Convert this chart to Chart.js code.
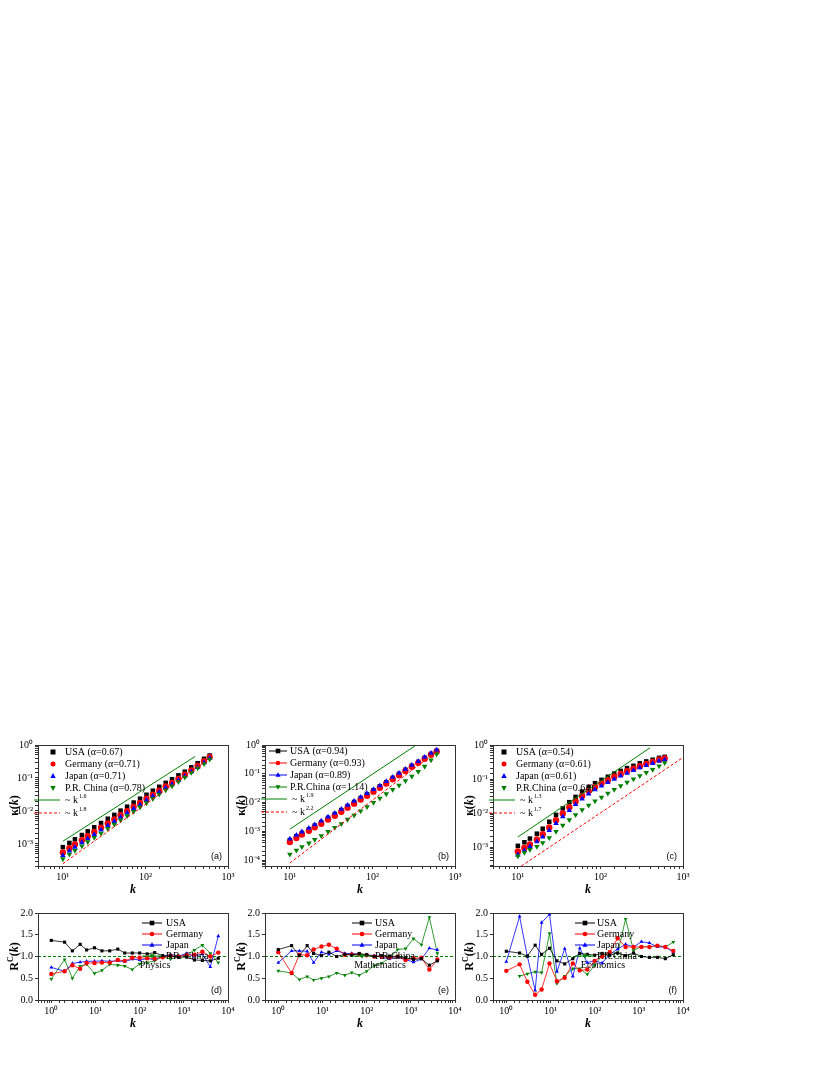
<!DOCTYPE html>
<html>
<head>
<meta charset="utf-8">
<script src="https://cdn.jsdelivr.net/npm/chart.js@4/dist/chart.umd.min.js"></script>
<style>
body{margin:0;background:#fff;}
#wrap{position:relative;width:830px;height:1075px;}
canvas{position:absolute;}
</style>
</head>
<body>
<div id="wrap">
<canvas id="ca" width="248" height="169" style="left:0px;top:733px"></canvas>
<canvas id="cb" width="248" height="169" style="left:227px;top:733px"></canvas>
<canvas id="cc" width="248" height="169" style="left:455px;top:733px"></canvas>
<canvas id="cd" width="248" height="135" style="left:0px;top:901px"></canvas>
<canvas id="ce" width="248" height="135" style="left:227px;top:901px"></canvas>
<canvas id="cf" width="248" height="135" style="left:455px;top:901px"></canvas>
</div>
<script>
// top row: kappa(k) vs k
const kTop = [10,12,14,17,20,24,29,35,42,50,60,72,86,103,123,147,176,210,251,300,359,429,513,600];
const usaA = [8e-4,1.07e-3,1.38e-3,1.86e-3,2.4e-3,3.2e-3,4.3e-3,5.8e-3,7.6e-3,1.02e-2,1.35e-2,1.8e-2,2.35e-2,3.1e-2,4.1e-2,5.4e-2,7.1e-2,9.1e-2,0.12,0.155,0.21,0.28,0.38,0.48];
const gerA = [5.5e-4,7.4e-4,9.6e-4,1.3e-3,1.7e-3,2.3e-3,3.1e-3,4.2e-3,5.5e-3,7.4e-3,9.9e-3,1.33e-2,1.75e-2,2.35e-2,3.1e-2,4.1e-2,5.5e-2,7.1e-2,9.4e-2,0.125,0.17,0.23,0.32,0.43];
const jpnA = [4.5e-4,6.1e-4,8e-4,1.1e-3,1.45e-3,1.95e-3,2.65e-3,3.6e-3,4.8e-3,6.5e-3,8.7e-3,1.17e-2,1.55e-2,2.1e-2,2.8e-2,3.7e-2,5e-2,6.5e-2,8.6e-2,0.115,0.155,0.21,0.29,0.40];
const chnA = [3.5e-4,4.8e-4,6.3e-4,8.6e-4,1.15e-3,1.55e-3,2.1e-3,2.9e-3,3.9e-3,5.3e-3,7.1e-3,9.6e-3,1.3e-2,1.75e-2,2.35e-2,3.2e-2,4.3e-2,5.7e-2,7.7e-2,0.105,0.145,0.2,0.27,0.37];
const fitGreenA = [[10,1.2e-3],[400,0.45]];
const fitRedA = [[10,2.5e-4],[600,0.4]];

const usaB = [5e-4,6.8e-4,8.9e-4,1.2e-3,1.6e-3,2.1e-3,2.95e-3,4e-3,5.5e-3,7.6e-3,1.05e-2,1.45e-2,1.95e-2,2.7e-2,3.7e-2,5.1e-2,7.2e-2,0.1,0.138,0.19,0.26,0.36,0.49,0.63];
const gerB = [4.3e-4,5.9e-4,7.8e-4,1.05e-3,1.4e-3,1.85e-3,2.6e-3,3.5e-3,4.8e-3,6.7e-3,9.2e-3,1.28e-2,1.72e-2,2.4e-2,3.3e-2,4.6e-2,6.5e-2,0.09,0.125,0.175,0.24,0.33,0.46,0.6];
const jpnB = [5.5e-4,7.4e-4,9.7e-4,1.3e-3,1.72e-3,2.3e-3,3.2e-3,4.3e-3,5.9e-3,8.1e-3,1.12e-2,1.55e-2,2.08e-2,2.85e-2,3.9e-2,5.4e-2,7.6e-2,0.105,0.145,0.2,0.27,0.38,0.52,0.68];
const chnB = [1.6e-4,2.2e-4,2.9e-4,3.9e-4,5.2e-4,7e-4,9.8e-4,1.35e-3,1.85e-3,2.6e-3,3.6e-3,5.1e-3,7.1e-3,1e-2,1.42e-2,2e-2,2.85e-2,4e-2,5.7e-2,8.2e-2,0.12,0.18,0.3,0.48];
const fitGreenB = [[10,1.2e-3],[340,1]];
const fitRedB = [[10,8e-5],[600,0.6]];

const usaC = [1.1e-3,1.4e-3,1.8e-3,2.5e-3,3.5e-3,5.6e-3,8.9e-3,1.38e-2,2.1e-2,3e-2,4.3e-2,5.9e-2,7.6e-2,9.5e-2,0.117,0.145,0.174,0.21,0.245,0.29,0.33,0.37,0.42,0.45];
const gerC = [7.5e-4,9.5e-4,1.2e-3,1.7e-3,2.4e-3,3.8e-3,6.2e-3,9.8e-3,1.5e-2,2.2e-2,3.2e-2,4.5e-2,5.9e-2,7.5e-2,9.3e-2,0.117,0.142,0.17,0.2,0.24,0.28,0.32,0.37,0.4];
const jpnC = [6e-4,8e-4,1.05e-3,1.45e-3,2e-3,3.1e-3,5e-3,7.9e-3,1.2e-2,1.8e-2,2.6e-2,3.7e-2,4.9e-2,6.3e-2,8e-2,0.1,0.125,0.15,0.18,0.215,0.25,0.29,0.34,0.37];
const chnC = [5.5e-4,7e-4,8.5e-4,1.05e-3,1.35e-3,1.9e-3,2.9e-3,4.4e-3,6.4e-3,9e-3,1.25e-2,1.7e-2,2.25e-2,2.9e-2,3.8e-2,4.9e-2,6.3e-2,8e-2,0.1,0.125,0.155,0.19,0.24,0.3];
const fitGreenC = [[10,2e-3],[400,0.83]];
const fitRedC = [[11,2.8e-4],[1000,0.43]];

// bottom row: R^C(k) vs k
const kBot = [1,2,3,4.5,6.3,9.5,14,21,32,46,68,100,148,219,331,501,759,1148,1738,2630,3981,6026];
const usaD = [1.37,1.33,1.13,1.28,1.15,1.20,1.13,1.13,1.17,1.08,1.08,1.08,1.06,1.09,1.02,1.01,0.98,0.99,0.92,0.91,0.90,0.96];
const gerD = [0.60,0.66,0.80,0.72,0.85,0.85,0.86,0.86,0.92,0.90,0.97,0.97,0.96,0.95,0.98,1.02,1.00,1.03,1.04,1.11,1.00,1.09];
const jpnD = [0.75,0.66,0.84,0.87,0.89,0.89,0.90,0.89,0.90,0.88,0.94,0.92,0.95,0.93,1.01,1.05,1.01,1.07,1.00,1.06,0.76,1.47];
const chnD = [0.48,0.93,0.50,0.78,0.82,0.61,0.68,0.82,0.80,0.78,0.70,0.83,0.86,0.90,1.00,0.94,1.00,1.03,1.15,1.26,1.07,0.86];

const usaE = [1.16,1.25,1.02,1.25,1.07,1.02,1.10,1.00,1.05,1.03,1.07,1.04,1.00,1.02,1.01,1.00,0.97,0.93,0.95,0.80,0.90];
const gerE = [1.10,0.62,1.04,1.03,1.16,1.23,1.27,1.18,1.04,1.05,1.05,1.03,1.00,1.00,0.98,1.00,0.92,0.96,0.97,0.70,0.93];
const jpnE = [0.86,1.13,1.13,1.12,0.86,1.10,1.05,1.13,1.07,1.07,1.05,1.04,1.02,0.98,0.95,0.98,0.93,0.87,0.94,1.19,1.15];
const chnE = [0.67,0.62,0.47,0.54,0.46,0.50,0.54,0.62,0.57,0.63,0.57,0.66,0.79,0.85,0.96,1.16,1.18,1.41,1.27,1.90,1.07];

const usaF = [1.12,1.08,1.01,1.26,1.05,1.19,0.90,0.83,0.95,1.07,1.05,1.03,1.07,1.03,1.08,1.02,1.08,1.00,0.98,0.98,0.95,1.04];
const gerF = [0.67,0.82,0.42,0.12,0.24,0.84,0.43,0.51,0.84,0.68,0.70,0.90,1.00,1.10,1.42,1.22,1.22,1.22,1.22,1.25,1.22,1.13];
const jpnF = [0.88,1.92,1.00,0.22,1.78,1.97,0.65,1.18,0.54,1.19,0.86,0.90,0.85,1.05,1.17,1.28,1.22,1.34,1.31,1.22,1.22,1.10];
const chnF = [null,0.55,0.60,0.65,0.63,1.53,0.38,0.55,0.72,0.72,0.59,0.80,1.03,1.10,1.07,1.86,1.14,1.23,1.22,1.25,1.22,1.33];

const BLACK='#000000', RED='#ff0000', BLUE='#0000ff', GREEN='#008000';
const FONT='"Liberation Serif", "Times New Roman", serif';
const SUP={'0':'⁰','1':'¹','2':'²','3':'³','4':'⁴','-':'⁻'};
const marks=[
  {c:BLACK,s:'rect',r:0},{c:RED,s:'circle',r:0},{c:BLUE,s:'triangle',r:0},{c:GREEN,s:'triangle',r:180}
];

function pts(xs,ys){ return xs.map((x,i)=>({x:x,y:ys[i]})); }
function lineData(arr){ return arr.map(p=>({x:p[0],y:p[1]})); }

function drawMark(ctx,m,x,y,r){
  ctx.save();ctx.fillStyle=m.c;ctx.beginPath();
  if(m.s==='rect'){ctx.rect(x-r,y-r,2*r,2*r);}
  else if(m.s==='circle'){ctx.arc(x,y,r,0,Math.PI*2);}
  else{const d=m.r?-1:1;ctx.moveTo(x,y-d*r*1.2);ctx.lineTo(x+r*1.1,y+d*r*0.8);ctx.lineTo(x-r*1.1,y+d*r*0.8);ctx.closePath();}
  ctx.fill();ctx.restore();
}

const decorPlugin={
  id:'decor',
  afterDraw(chart,args,o){
    const ctx=chart.ctx, a=chart.chartArea;
    ctx.save();
    ctx.strokeStyle='#333';ctx.lineWidth=1;
    ctx.strokeRect(a.left+0.5,a.top+0.5,a.right-a.left,a.bottom-a.top);
    ctx.fillStyle='#000';ctx.textBaseline='middle';
    // legend
    o.legend.forEach((it,i)=>{
      const y=a.top+o.ly+i*o.dy+(it.extra||0);
      const x0=a.left+o.lx;
      if(it.kind==='pt'){drawMark(ctx,it.m,x0+o.mx,y,2.5);}
      else if(it.kind==='ptline'){
        ctx.strokeStyle=it.m.c;ctx.lineWidth=1;ctx.beginPath();ctx.moveTo(x0,y);ctx.lineTo(x0+o.lw,y);ctx.stroke();
        drawMark(ctx,it.m,x0+o.lw/2,y,2.3);
      } else {
        ctx.strokeStyle=it.c;ctx.lineWidth=1;ctx.setLineDash(it.dash||[]);
        ctx.beginPath();ctx.moveTo(a.left+it.x0,y);ctx.lineTo(a.left+it.x1,y);ctx.stroke();ctx.setLineDash([]);
      }
      ctx.fillStyle='#000';ctx.font='10px '+FONT;
      const tx=a.left+(it.tx!==undefined?it.tx:o.tx);
      ctx.fillText(it.text,tx,y);
      if(it.sup){const w=ctx.measureText(it.text).width;ctx.font='6px '+FONT;ctx.fillText(it.sup,tx+w+1,y-4);}
    });
    // panel label
    ctx.font='9px Arial, sans-serif';ctx.textAlign='right';ctx.textBaseline='alphabetic';
    ctx.fillText(o.tag,a.right-6,a.bottom-7);
    // field name
    if(o.field){ctx.font='10px '+FONT;ctx.textAlign='center';ctx.fillText(o.field.t,a.left+o.field.x,a.top+o.field.y);}
    // axis titles
    ctx.textAlign='center';ctx.textBaseline='alphabetic';
    ctx.font='bold italic 12px '+FONT;
    ctx.fillText('k',(a.left+a.right)/2,a.bottom+27);
    ctx.translate(a.left-20,(a.top+a.bottom)/2);ctx.rotate(-Math.PI/2);
    if(o.ytitle==='kappa'){
      ctx.font='bold 12px '+FONT;const w1=ctx.measureText('κ(').width;
      ctx.font='bold italic 12px '+FONT;const w2=ctx.measureText('k').width;
      ctx.font='bold 12px '+FONT;const w3=ctx.measureText(')').width;
      let x=-(w1+w2+w3)/2;ctx.textAlign='left';
      ctx.fillText('κ(',x,0);x+=w1;ctx.font='bold italic 12px '+FONT;ctx.fillText('k',x,0);x+=w2;
      ctx.font='bold 12px '+FONT;ctx.fillText(')',x,0);
    } else {
      ctx.textAlign='left';ctx.font='bold 12px '+FONT;
      const w1=ctx.measureText('R').width;ctx.font='bold 8px '+FONT;const w2=ctx.measureText('C').width;
      ctx.font='bold 12px '+FONT;const w3=ctx.measureText('(').width;
      ctx.font='bold italic 12px '+FONT;const w4=ctx.measureText('k').width;
      let x=-(w1+w2+w3+w4+4)/2;
      ctx.font='bold 12px '+FONT;ctx.fillText('R',x,0);x+=w1;
      ctx.font='bold 8px '+FONT;ctx.fillText('C',x,-5);x+=w2;
      ctx.font='bold 12px '+FONT;ctx.fillText('(',x,0);x+=w3;
      ctx.font='bold italic 12px '+FONT;ctx.fillText('k',x,0);x+=w4;
      ctx.font='bold 12px '+FONT;ctx.fillText(')',x,0);
    }
    ctx.restore();
  }
};

function decade(v){
  const l=Math.log10(v);
  if(Math.abs(l-Math.round(l))>1e-6) return '';
  return '10'+String(Math.round(l)).split('').map(c=>SUP[c]).join('');
}

function logAxis(min,max){
  return {type:'logarithmic',min:min,max:max,
    grid:{display:true,drawOnChartArea:false,tickLength:3,color:'#333'},border:{display:false},
    ticks:{autoSkip:false,maxRotation:0,padding:2,color:'#000',font:{family:FONT,size:10},callback:decade}};
}

function makeChart(id,datasets,xAxis,yAxis,decor){
  return new Chart(document.getElementById(id),{
    type:'scatter',
    data:{datasets:datasets},
    options:{responsive:false,animation:false,
      layout:{padding:{top:12,right:20,left:0,bottom:0}},
      plugins:{legend:{display:false},tooltip:{enabled:false},decor:decor},
      scales:{
        x:Object.assign(xAxis,{afterFit:s=>{s.height=36;}}),
        y:Object.assign(yAxis,{afterFit:s=>{s.width=38;}})
      }
    },
    plugins:[decorPlugin]
  });
}

function topSets(series,green,red){
  const sets=series.map((ys,i)=>({data:pts(kTop,ys),showLine:false,pointStyle:marks[i].s,pointRotation:marks[i].r,
    pointRadius:3.2,pointBorderWidth:0,backgroundColor:marks[i].c,borderColor:marks[i].c}));
  sets.push({data:lineData(green),showLine:true,pointRadius:0,borderColor:GREEN,borderWidth:1});
  sets.push({data:lineData(red),showLine:true,pointRadius:0,borderColor:RED,borderWidth:1,borderDash:[3,2]});
  return sets.reverse();
}
function botSets(series){
  const sets=series.map((ys,i)=>({data:pts(kBot,ys).filter(p=>p.y!==null&&p.y!==undefined),showLine:true,pointStyle:marks[i].s,pointRotation:marks[i].r,
    pointRadius:2.2,pointBorderWidth:0,backgroundColor:marks[i].c,borderColor:marks[i].c,borderWidth:0.8}));
  sets.push({data:[{x:0.5,y:1},{x:10000,y:1}],showLine:true,pointRadius:0,borderColor:GREEN,borderWidth:1,borderDash:[3,2]});
  return sets;
}

function topLegend(names,fits,withLine){
  const items=names.map((n,i)=>({kind:withLine?'ptline':'pt',m:marks[i],text:n}));
  items.push({kind:'line',c:GREEN,x0:-4,x1:22,text:'~ k',sup:fits[0],extra:0});
  items.push({kind:'line',c:RED,dash:[3,2],x0:-4,x1:22,text:'~ k',sup:fits[1],extra:1});
  items[4].tx=27;items[5].tx=27;
  return items;
}
function botLegend(names){ return names.map((n,i)=>({kind:'ptline',m:marks[i],text:n})); }

const yTopA=logAxis(Math.pow(10,-3.67),1), yTopB=logAxis(Math.pow(10,-4.2),1), yTopC=logAxis(Math.pow(10,-3.55),1);
const linAxisY=()=>({type:'linear',min:0,max:2,grid:{display:true,drawOnChartArea:false,tickLength:3,color:'#333'},border:{display:false},
  ticks:{stepSize:0.5,padding:2,color:'#000',font:{family:FONT,size:10},callback:v=>v.toFixed(1)}});

makeChart('ca',topSets([usaA,gerA,jpnA,chnA],fitGreenA,fitRedA),logAxis(5,1000),yTopA,
  {tag:'(a)',ytitle:'kappa',lx:11,mx:4,tx:27,ly:7,dy:12,
   legend:topLegend(['USA (α=0.67)','Germany (α=0.71)','Japan (α=0.71)','P.R. China (α=0.78)'],['1.6','1.8'],false)});
makeChart('cb',topSets([usaB,gerB,jpnB,chnB],fitGreenB,fitRedB),logAxis(5,1000),yTopB,
  {tag:'(b)',ytitle:'kappa',lx:4,lw:18,tx:25,ly:6,dy:12,
   legend:topLegend(['USA (α=0.94)','Germany (α=0.93)','Japan (α=0.89)','P.R.China (α=1.14)'],['1.9','2.2'],true)});
makeChart('cc',topSets([usaC,gerC,jpnC,chnC],fitGreenC,fitRedC),logAxis(5,1000),yTopC,
  {tag:'(c)',ytitle:'kappa',lx:7,mx:4,tx:23,ly:7,dy:12,
   legend:topLegend(['USA (α=0.54)','Germany (α=0.61)','Japan (α=0.61)','P.R.China (α=0.64)'],['1.3','1.7'],false)});

makeChart('cd',botSets([usaD,gerD,jpnD,chnD]),logAxis(0.5,10000),linAxisY(),
  {tag:'(d)',ytitle:'R',lx:104,lw:20,tx:128,ly:10,dy:11,field:{t:'Physics',x:117,y:55},
   legend:botLegend(['USA','Germany','Japan','P.R. China'])});
makeChart('ce',botSets([usaE,gerE,jpnE,chnE]),logAxis(0.5,10000),linAxisY(),
  {tag:'(e)',ytitle:'R',lx:87,lw:20,tx:110,ly:10,dy:11,field:{t:'Mathematics',x:115,y:55},
   legend:botLegend(['USA','Germany','Japan','P.R.China'])});
makeChart('cf',botSets([usaF,gerF,jpnF,chnF]),logAxis(0.5,10000),linAxisY(),
  {tag:'(f)',ytitle:'R',lx:82,lw:20,tx:104,ly:10,dy:11,field:{t:'Economics',x:110,y:55},
   legend:botLegend(['USA','Germany','Japan','P.R.China'])});
</script>
</body>
</html>
